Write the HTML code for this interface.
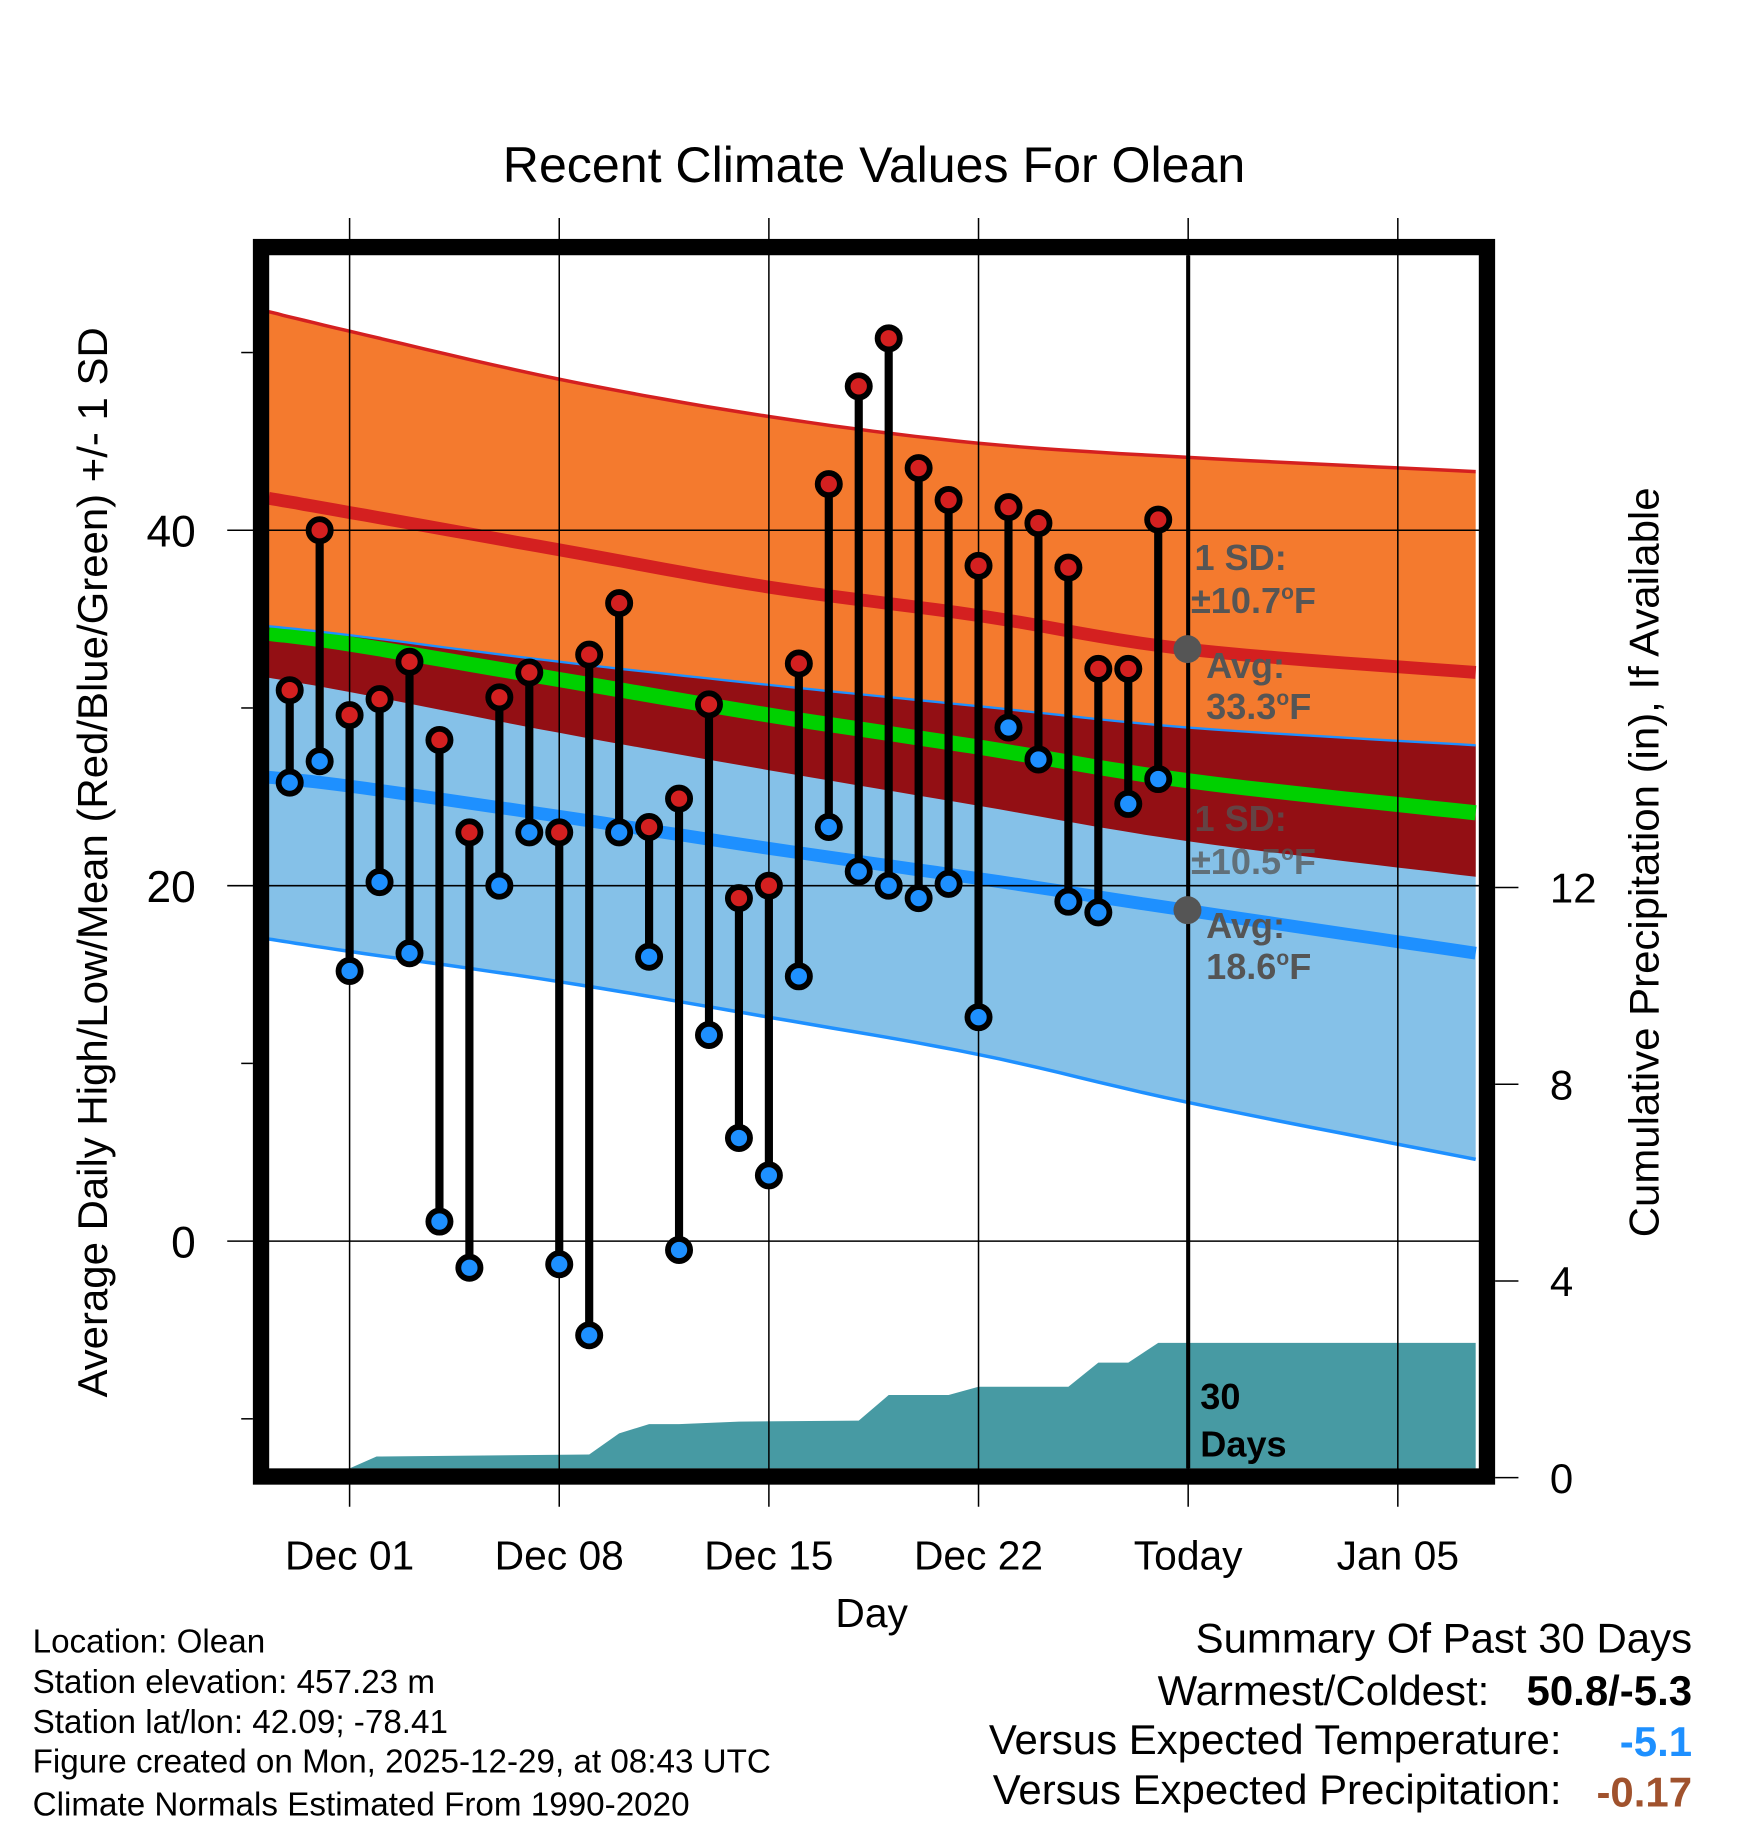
<!DOCTYPE html>
<html><head><meta charset="utf-8"><style>
html,body{margin:0;padding:0;background:#fff;}
svg{display:block;font-family:"Liberation Sans",sans-serif;}
</style></head><body>
<svg id="c" width="1748" height="1828" viewBox="0 0 1500 1568.6" xmlns="http://www.w3.org/2000/svg">
<g id="bands"></g><g id="grid"></g><g id="marks"></g><g id="labels"></g>
</svg>
<script>
const days=[-2,-1,0,1,2,3,4,5,6,7,8,9,10,11,12,13,14,15,16,17,18,19,20,21,22,23,24,25,26,27];
const highs=[31,40,29.6,30.5,32.6,28.2,23,30.6,32,23,33,35.9,23.3,24.9,30.2,19.3,20,32.5,42.6,48.1,50.8,43.5,41.7,38,41.3,40.4,37.9,32.2,32.2,40.6];
const lows=[25.8,27,15.2,20.2,16.2,1.1,-1.5,20,23,-1.3,-5.3,23,16,-0.5,11.6,5.8,3.7,14.9,23.3,20.8,20,19.3,20.1,12.6,28.9,27.1,19.1,18.5,24.6,26];
const normDays=[-2.7,0,7,14,21,28,37.6];
const highMean=[41.8,41.0,38.9,36.8,35.2,33.3,32.0];
const highUpper=[52.3,51.2,48.5,46.4,44.9,44.1,43.3];
const highLower=[31.7,30.9,28.6,26.5,24.5,22.5,20.5];
const lowMean=[26.1,25.6,23.9,22.1,20.4,18.6,16.2];
const lowUpper=[34.6,34.1,32.6,31.3,30.1,28.9,27.9];
const lowLower=[17.0,16.3,14.6,12.6,10.5,7.8,4.6];
const meanMean=[34.2,33.6,31.6,29.6,27.8,25.9,24.1];
const precipDays=[-2.7,0,0.9,8,9,10,11,13,17,18,20,21,24,25,26,27,37.6];
const precipVals=[0,0,0.43,0.47,0.9,1.09,1.09,1.14,1.16,1.68,1.68,1.85,1.85,2.34,2.34,2.74,2.74];
const xTickDays=[0,7,14,21,28,35];
const xTickLabels=["Dec 01","Dec 08","Dec 15","Dec 22","Today","Jan 05"];
const yTicks=[40,20,0];
const yMinor=[50,30,10,-10];
const rTicks=[0,4,8,12];

const X=d=>300+25.7*d, Y=t=>1065-15.25*t, R=p=>1268-42.2*p;
const NS="http://www.w3.org/2000/svg";
function mk(tag,attrs,parent,text){const e=document.createElementNS(NS,tag);for(const k in attrs)e.setAttribute(k,attrs[k]);if(text!==undefined)e.textContent=text;parent.appendChild(e);return e;}
const bands=document.getElementById('bands'),grid=document.getElementById('grid'),marks=document.getElementById('marks'),labels=document.getElementById('labels');
function pts(arr){
  // smooth via Catmull-Rom sampled points
  const P=normDays.map((d,i)=>[X(d),Y(arr[i])]);const out=[];
  for(let i=0;i<P.length-1;i++){const p0=P[Math.max(0,i-1)],p1=P[i],p2=P[i+1],p3=P[Math.min(P.length-1,i+2)];
    for(let s=0;s<10;s++){const t=s/10,t2=t*t,t3=t2*t;
      const f=(a,b,c,d)=>0.5*((2*b)+(-a+c)*t+(2*a-5*b+4*c-d)*t2+(-a+3*b-3*c+d)*t3);
      out.push(f(p0[0],p1[0],p2[0],p3[0]).toFixed(1)+','+f(p0[1],p1[1],p2[1],p3[1]).toFixed(1));}}
  const L=P[P.length-1];out.push(L[0]+','+L[1]);return out;}
const band=(a,b)=>pts(a).concat(pts(b).reverse()).join(' ');
let e;
e=mk('polygon',{points:band(highUpper,highLower),fill:'#f47a2e'},bands);

e=mk('polygon',{points:band(lowUpper,lowLower),fill:'#85c1e8'},bands);

e=mk('polygon',{points:band(lowUpper,highLower),fill:'#930f14'},bands);

e=mk('polyline',{points:pts(meanMean).join(' '),fill:'none',stroke:'#00d000','stroke-width':13},bands);

e=mk('polyline',{points:pts(highMean).join(' '),fill:'none',stroke:'#d42020','stroke-width':11},bands);

e=mk('polyline',{points:pts(lowMean).join(' '),fill:'none',stroke:'#1e90ff','stroke-width':11},bands);

e=mk('polyline',{points:pts(highUpper).join(' '),fill:'none',stroke:'#d42020','stroke-width':3},bands);

e=mk('polyline',{points:pts(lowUpper).join(' '),fill:'none',stroke:'#1e90ff','stroke-width':2},bands);

e=mk('polyline',{points:pts(lowLower).join(' '),fill:'none',stroke:'#1e90ff','stroke-width':3},bands);

let pp=[X(precipDays[0])+','+1260];
precipDays.forEach((d,i)=>pp.push(X(d)+','+Math.min(1260,R(precipVals[i]))));
pp.push(X(precipDays[precipDays.length-1])+','+1260);
e=mk('polygon',{points:pp.join(' '),fill:'#479aa3'},bands);

xTickDays.forEach((d,i)=>{
 e=mk('line',{x1:X(d),x2:X(d),y1:187,y2:1293,stroke:'#000','stroke-width':1.3},grid);
 
 e=mk('text',{x:X(d),y:1347,'font-size':35,'text-anchor':'middle'},labels,xTickLabels[i]);
 
});
yTicks.forEach(t=>{
 e=mk('line',{x1:195,x2:1276,y1:Y(t),y2:Y(t),stroke:'#000','stroke-width':1.3},grid);
 
 e=mk('text',{x:168,y:Y(t)+14,'font-size':38,'text-anchor':'end'},labels,String(t));
 
});
yMinor.forEach(t=>{
 e=mk('line',{x1:207,x2:217,y1:Y(t),y2:Y(t),stroke:'#000','stroke-width':1.3},grid);
 
});
rTicks.forEach(p=>{
 e=mk('line',{x1:1283,x2:1303,y1:R(p),y2:R(p),stroke:'#000','stroke-width':1.3},grid);
 
 e=mk('text',{x:1330,y:R(p)+13,'font-size':36},labels,String(p));
 
});
e=mk('line',{x1:X(28),x2:X(28),y1:219,y2:1260,stroke:'#000','stroke-width':3.5},grid);

days.forEach((d,i)=>{
 e=mk('line',{x1:X(d),x2:X(d),y1:Y(highs[i]),y2:Y(lows[i]),stroke:'#000','stroke-width':7},marks);
 
});
days.forEach((d,i)=>{
 e=mk('circle',{cx:X(d),cy:Y(highs[i]),r:9.5,fill:'#d42020',stroke:'#000','stroke-width':5},marks);
 
 e=mk('circle',{cx:X(d),cy:Y(lows[i]),r:9.5,fill:'#1e90ff',stroke:'#000','stroke-width':5},marks);
 
});
</script>
<script>
const L=document.getElementById('labels');
L.insertAdjacentHTML('beforeend',`
<rect x="224" y="212" width="1052" height="1055" fill="none" stroke="#000" stroke-width="14"/>
<circle cx="1019" cy="557" r="12" fill="#555"/>
<circle cx="1019" cy="781" r="12" fill="#555"/>
<g font-weight="bold" font-size="31" fill="#555">
<text x="1025" y="489">1 SD:</text>
<text x="1022" y="526">±10.7<tspan font-size="18" dy="-12">o</tspan><tspan dy="12">F</tspan></text>
<text x="1035" y="582">Avg:</text>
<text x="1035" y="617">33.3<tspan font-size="18" dy="-12">o</tspan><tspan dy="12">F</tspan></text>
<g opacity="0.75">
<text x="1025" y="713">1 SD:</text>
<text x="1022" y="750">±10.5<tspan font-size="18" dy="-12">o</tspan><tspan dy="12">F</tspan></text>
</g>
<text x="1035" y="805">Avg:</text>
<text x="1035" y="840">18.6<tspan font-size="18" dy="-12">o</tspan><tspan dy="12">F</tspan></text>
</g>
<text x="1030" y="1209" font-size="31" font-weight="bold">30</text>
<text x="1030" y="1250" font-size="31" font-weight="bold">Days</text>
<text x="750" y="156" font-size="43" text-anchor="middle">Recent Climate Values For Olean</text>
<text transform="translate(92,740) rotate(-90)" font-size="36" text-anchor="middle">Average Daily High/Low/Mean (Red/Blue/Green) +/- 1 SD</text>
<text transform="translate(1423,740) rotate(-90)" font-size="36" text-anchor="middle">Cumulative Precipitation (in), If Available</text>
<text x="748" y="1396" font-size="35" text-anchor="middle">Day</text>
<g font-size="28.5">
<text x="28" y="1418">Location: Olean</text>
<text x="28" y="1453">Station elevation: 457.23 m</text>
<text x="28" y="1487">Station lat/lon: 42.09; -78.41</text>
<text x="28" y="1521">Figure created on Mon, 2025-12-29, at 08:43 UTC</text>
<text x="28" y="1558">Climate Normals Estimated From 1990-2020</text>
</g>
<g font-size="36" text-anchor="end">
<text x="1452" y="1418">Summary Of Past 30 Days</text>
<text x="1278" y="1463">Warmest/Coldest:</text>
<text x="1452" y="1463" font-weight="bold">50.8/-5.3</text>
<text x="1340" y="1505">Versus Expected Temperature:</text>
<text x="1452" y="1507" font-weight="bold" fill="#1e90ff">-5.1</text>
<text x="1340" y="1548">Versus Expected Precipitation:</text>
<text x="1452" y="1550" font-weight="bold" fill="#a0522d">-0.17</text>
</g>`);
</script>
</body></html>
